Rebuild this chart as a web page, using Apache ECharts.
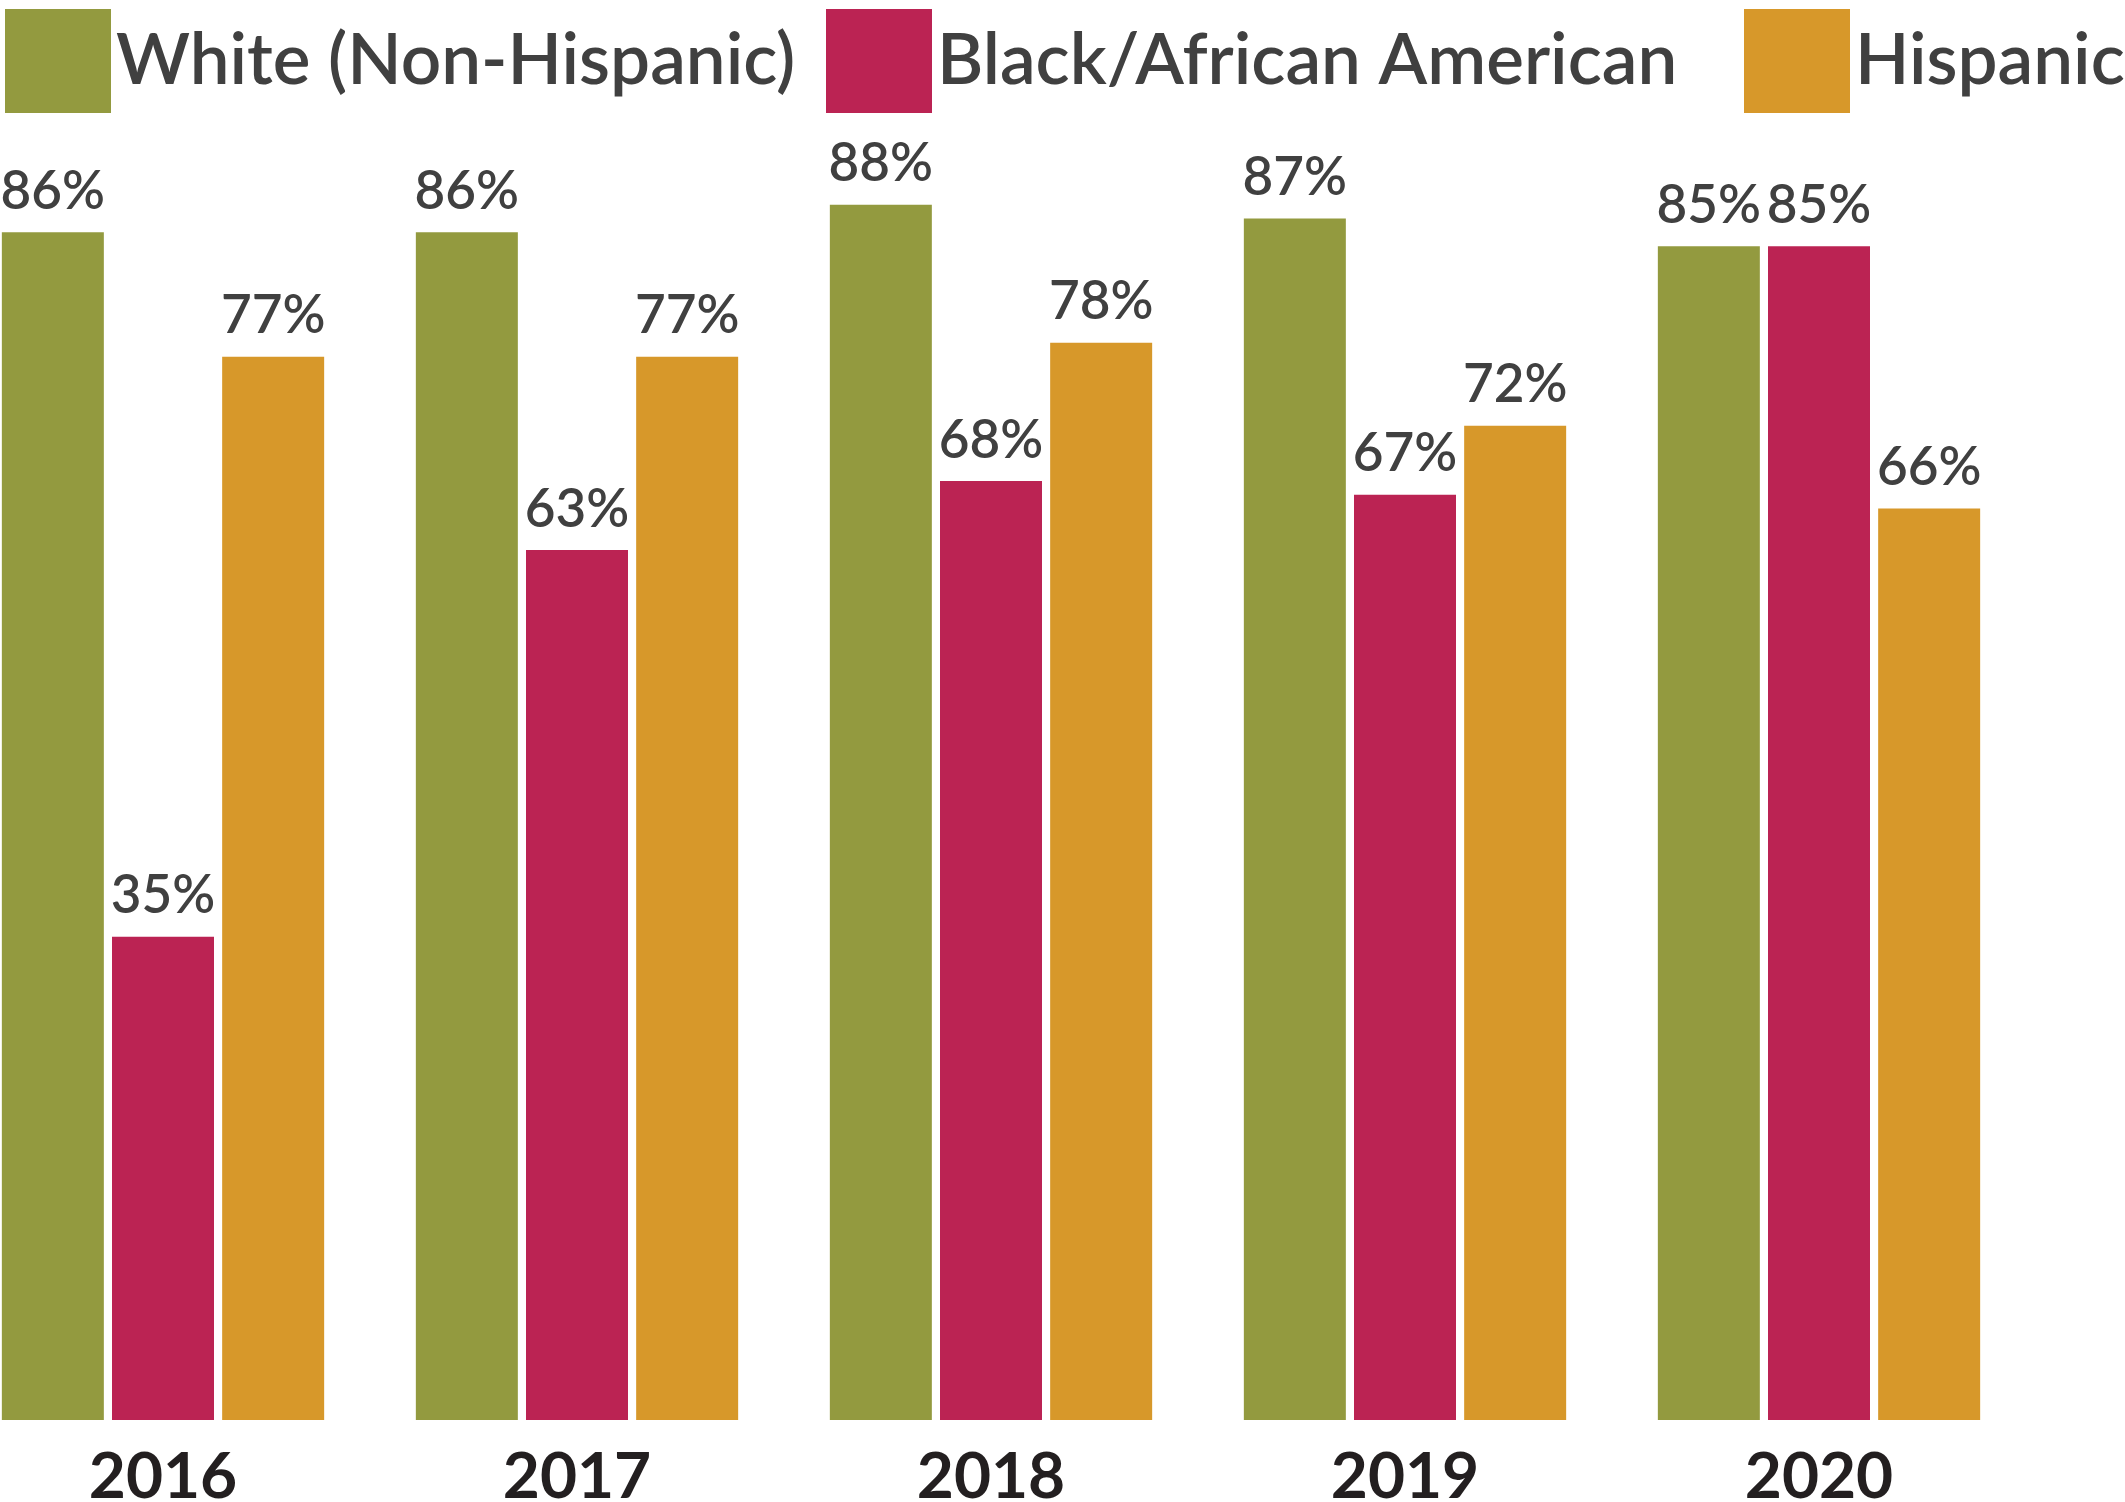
<!DOCTYPE html>
<html>
<head>
<meta charset="utf-8">
<script src="https://cdn.jsdelivr.net/npm/echarts@6/dist/echarts.min.js"></script>
<style>
html,body{margin:0;padding:0;background:#fff;}
#chart{width:2125px;height:1502px;}
</style>
</head>
<body>
<div id="chart"></div>
<script>
const years = ['2016', '2017', '2018', '2019', '2020'];
const seriesNames = ['White (Non-Hispanic)', 'Black/African American', 'Hispanic'];
const white = [86, 86, 88, 87, 85];
const black = [35, 63, 68, 67, 85];
const hispanic = [77, 77, 78, 72, 66];
const colors = ['#939a3f', '#bb2353', '#d7982a'];

const FONT = 'Lato, "Open Sans", sans-serif';
const chart = echarts.init(document.getElementById('chart'), null, {renderer: 'canvas'});

function legendAt(name, left) {
  return {
    data: [name],
    left: left,
    top: 4,
    itemWidth: 106,
    itemHeight: 104,
    itemGap: 0,
    icon: 'rect',
    textStyle: {fontFamily: FONT, fontSize: 71, fontWeight: 600, color: '#404040'},
    selectedMode: false
  };
}

const labelStyle = {
  show: true,
  position: 'top',
  distance: 14,
  formatter: '{c}%',
  fontFamily: FONT,
  fontSize: 53,
  fontWeight: 600,
  color: '#404040'
};

const datasets = [white, black, hispanic];

chart.setOption({
  animation: false,
  color: colors,
  legend: [legendAt(seriesNames[0], 0), legendAt(seriesNames[1], 821), legendAt(seriesNames[2], 1739)],
  grid: {left: -44, width: 2070, top: 39, bottom: 82, containLabel: false, outerBoundsMode: 'none'},
  xAxis: {
    type: 'category',
    data: years,
    axisLine: {show: false},
    axisTick: {show: false},
    axisLabel: {fontFamily: FONT, fontSize: 64, fontWeight: 700, color: '#231f20', margin: 25}
  },
  yAxis: {
    type: 'value',
    min: 0,
    max: 100,
    show: false,
    splitLine: {show: false}
  },
  series: seriesNames.map((n, i) => ({
    name: n,
    type: 'bar',
    data: datasets[i],
    barWidth: 102,
    barGap: '8%',
    itemStyle: {color: colors[i]},
    label: labelStyle
  }))
});
</script>
</body>
</html>
